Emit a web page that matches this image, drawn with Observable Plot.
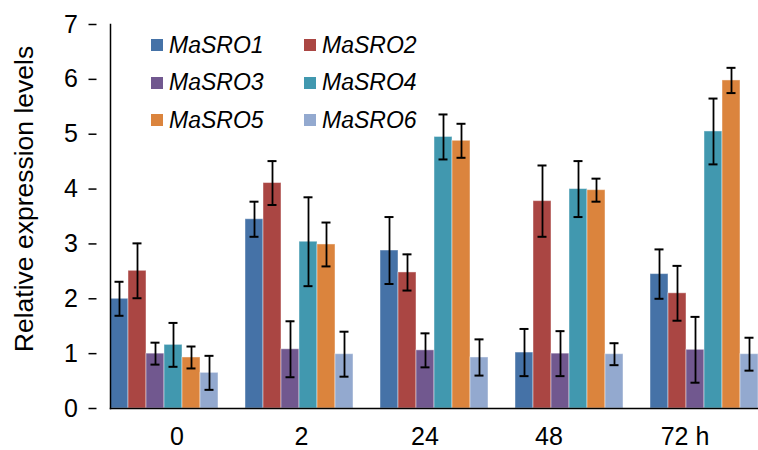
<!DOCTYPE html>
<html><head><meta charset="utf-8">
<script src="https://cdn.jsdelivr.net/npm/d3@7"></script>
<script src="https://cdn.jsdelivr.net/npm/@observablehq/plot@0.6"></script>
<style>
body{margin:0;background:#fff;}
#wrap{position:relative;width:758px;height:450px;font-family:"Liberation Sans",Arial,sans-serif;color:#000;}
#wrap svg{position:absolute;left:0;top:0;}
.leg{position:absolute;display:flex;align-items:center;font-style:italic;font-size:23px;white-space:nowrap;height:26px;}
.leg .sw{display:inline-block;width:12px;height:12px;margin-right:6px;}
#ytitle{position:absolute;left:24px;top:199px;transform:translate(-50%,-50%) rotate(-90deg);font-size:26.5px;white-space:nowrap;}
</style></head>
<body><div id="wrap"></div>
<script>
const groups = ["0", "2", "24", "48", "72 h"];
const series = ["MaSRO1", "MaSRO2", "MaSRO3", "MaSRO4", "MaSRO5", "MaSRO6"];
const colors = ["#4572A7", "#AA4643", "#71588F", "#4198AF", "#DB843D", "#93A9CF"];
const yTicks = [0, 1, 2, 3, 4, 5, 6, 7];
const yTitle = "Relative expression levels";

const MaSRO1 = [2.00, 3.45, 2.88, 1.02, 2.45];
const MaSRO2 = [2.51, 4.11, 2.48, 3.78, 2.10];
const MaSRO3 = [1.00, 1.08, 1.06, 1.00, 1.07];
const MaSRO4 = [1.16, 3.04, 4.95, 4.00, 5.05];
const MaSRO5 = [0.93, 2.99, 4.88, 3.98, 5.98];
const MaSRO6 = [0.65, 0.99, 0.93, 0.99, 0.99];

const errMaSRO1 = [0.31, 0.32, 0.61, 0.43, 0.45];
const errMaSRO2 = [0.50, 0.40, 0.33, 0.65, 0.50];
const errMaSRO3 = [0.20, 0.51, 0.31, 0.41, 0.60];
const errMaSRO4 = [0.40, 0.81, 0.41, 0.51, 0.60];
const errMaSRO5 = [0.20, 0.40, 0.31, 0.21, 0.23];
const errMaSRO6 = [0.31, 0.41, 0.33, 0.20, 0.30];

const values = [MaSRO1, MaSRO2, MaSRO3, MaSRO4, MaSRO5, MaSRO6];
const errors = [errMaSRO1, errMaSRO2, errMaSRO3, errMaSRO4, errMaSRO5, errMaSRO6];

const data = groups.flatMap((g, gi) => series.map((s, si) => ({
  group: g, series: s, value: values[si][gi], err: errors[si][gi]
})));

// horizontal shifts of the category labels (as in the original figure)
const labelShift = [12.5, 2, -9.5, -20.5, -19.5];
const font = "'Liberation Sans', Arial, sans-serif";

const chart = Plot.plot({
  width: 758, height: 450,
  marginLeft: 96, marginRight: 0, marginTop: 24, marginBottom: 42,
  style: {fontFamily: font, fontSize: "25px", background: "transparent", color: "#000"},
  fx: {domain: groups, range: [96, 771], paddingInner: 0.2, paddingOuter: 0.1, axis: null, label: null},
  x: {domain: series, padding: 0, axis: null},
  y: {domain: [0, 7], axis: null},
  color: {domain: series, range: colors},
  marks: [
    Plot.barY(data, {fx: "group", x: "series", y: "value", fill: "series",
      stroke: "#ffffff", strokeOpacity: 0.45, strokeWidth: 1}),
    Plot.ruleX(data, {fx: "group", x: "series", y1: d => d.value - d.err, y2: d => d.value + d.err,
      stroke: "#000", strokeWidth: 1.8}),
    Plot.tickY(data, {fx: "group", x: "series", y: d => d.value - d.err, inset: 4.5, stroke: "#000", strokeWidth: 2}),
    Plot.tickY(data, {fx: "group", x: "series", y: d => d.value + d.err, inset: 4.5, stroke: "#000", strokeWidth: 2}),
    Plot.axisY({ticks: yTicks, tickFormat: d => String(d), tickSize: 8, tickPadding: 11, fontSize: 25, label: null, strokeWidth: 1.5, color: "#000", dx: -13.5}),
    Plot.frame({facet: "super", anchor: "left", stroke: "#000", strokeWidth: 1.5}),
    Plot.frame({facet: "super", anchor: "bottom", stroke: "#000", strokeWidth: 1.5}),
    ...groups.map((g, i) => Plot.axisFx({anchor: "bottom", ticks: [g], dx: labelShift[i], tickSize: 0, tickPadding: 19, fontSize: 25, label: null, color: "#000"}))
  ]
});

const wrap = document.getElementById("wrap");
wrap.appendChild(chart);

const yt = document.createElement("div");
yt.id = "ytitle";
yt.textContent = yTitle;
wrap.appendChild(yt);

series.forEach((s, i) => {
  const col = i % 2, row = Math.floor(i / 2);
  const item = document.createElement("div");
  item.className = "leg";
  item.style.left = (151 + col * 153) + "px";
  item.style.top = (32 + row * 37.5) + "px";
  const sw = document.createElement("span");
  sw.className = "sw";
  sw.style.background = colors[i];
  item.appendChild(sw);
  item.appendChild(document.createTextNode(s));
  wrap.appendChild(item);
});
</script>
</body></html>
